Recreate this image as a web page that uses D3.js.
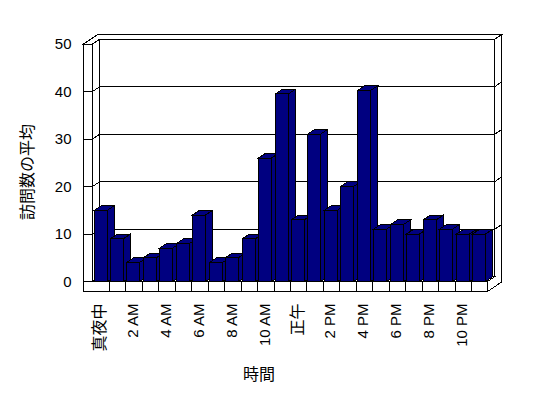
<!doctype html>
<html lang="ja">
<head>
    <meta charset="UTF-8">
    <title>訪問数の平均</title>
    <script src="https://d3js.org/d3.v7.min.js"></script>
    <style>
      body { margin: 0; background: #fff; }
      text { font-family: "Liberation Sans", Arial, "Noto Sans CJK JP", sans-serif; fill: #000; }
    </style>
</head>
<body>
    <svg width="548" height="398"></svg>

    <script>

      // Data
      const hours = [0, 1, 2, 3, 4, 5, 6, 7, 8, 9, 10, 11, 12, 13, 14, 15, 16, 17, 18, 19, 20, 21, 22, 23];
      const visits = [15, 9, 4, 5, 7, 8, 14, 4, 5, 9, 26, 39.5, 13, 31, 15, 20, 40.2, 11, 12, 10, 13, 11, 10, 10];
      const labelHours = [0, 2, 4, 6, 8, 10, 12, 14, 16, 18, 20, 22];
      const tickLabels = ["真夜中", "2 AM", "4 AM", "6 AM", "8 AM", "10 AM", "正午", "2 PM", "4 PM", "6 PM", "8 PM", "10 PM"];
      const yTicks = [0, 10, 20, 30, 40, 50];

      const svg = d3.select("svg");

      // 3D box geometry (front plane + depth offset)
      const dx = 7, dy = -4.7;
      const xOuter = 83.5, xIn = 92.5, xRight = 487.5;
      const floorBottom = 291.5;

      const x = d3.scaleBand().domain(hours).range([xIn, xRight]).padding(0);
      const y = d3.scaleLinear().domain([0, 50]).range([281.5, 44]);
      const yTop = y(50), yBase = y(0);

      const g = svg.append("g")
          .attr("stroke", "#000")
          .attr("stroke-width", 1)
          .attr("shape-rendering", "crispEdges");

      const poly = pts => "M" + pts.map(p => p.join(",")).join("L") + "Z";

      // back wall
      g.append("rect")
          .attr("x", xIn + dx).attr("y", yTop + dy)
          .attr("width", xRight - xIn).attr("height", yBase - yTop)
          .attr("fill", "#fff");

      g.selectAll(".grid").data(yTicks.slice(1)).join("line")
          .attr("x1", xIn + dx).attr("x2", xRight + dx)
          .attr("y1", d => y(d) + dy).attr("y2", d => y(d) + dy);

      // wall tops
      g.append("path")
          .attr("fill", "#fff")
          .attr("d", poly([[xOuter, yTop], [xIn, yTop], [xIn + dx, yTop + dy], [xRight + dx, yTop + dy],
                           [xRight + 2 * dx, yTop + 2 * dy], [xOuter + 2 * dx, yTop + 2 * dy]]));

      // left wall inner face
      g.append("path")
          .attr("fill", "#fff")
          .attr("d", poly([[xIn, yTop], [xIn + dx, yTop + dy], [xIn + dx, yBase + dy], [xIn, yBase]]));

      // left wall front face
      g.append("rect")
          .attr("x", xOuter).attr("y", yTop)
          .attr("width", xIn - xOuter).attr("height", floorBottom - yTop)
          .attr("fill", "#fff");

      // ticks on left wall
      g.selectAll(".tick").data(yTicks.slice(1)).join("path")
          .attr("fill", "none")
          .attr("d", d => `M${xOuter},${y(d)}H${xIn}L${xIn + dx},${y(d) + dy}`);

      // right side of back wall + floor
      g.append("path")
          .attr("fill", "#fff")
          .attr("d", poly([[xRight, yBase], [xRight + dx, yBase + dy], [xRight + dx, yTop + dy],
                           [xRight + 2 * dx, yTop + 2 * dy], [xRight + 2 * dx, floorBottom + 2 * dy], [xRight, floorBottom]]));

      g.selectAll(".rtick").data(yTicks.slice(1, 5)).join("line")
          .attr("x1", xRight + dx).attr("y1", d => y(d) + dy)
          .attr("x2", xRight + 2 * dx).attr("y2", d => y(d) + 2 * dy);

      // floor top
      g.append("path")
          .attr("fill", "#fff")
          .attr("d", poly([[xIn, yBase], [xIn + dx, yBase + dy], [xRight + dx, yBase + dy], [xRight, yBase]]));

      // floor front with category cells
      g.append("rect")
          .attr("x", xOuter).attr("y", yBase)
          .attr("width", xRight - xOuter).attr("height", floorBottom - yBase)
          .attr("fill", "#fff");

      g.selectAll(".cell").data(hours.slice(1)).join("line")
          .attr("x1", d => Math.round(x(d)) + 0.5).attr("x2", d => Math.round(x(d)) + 0.5)
          .attr("y1", yBase).attr("y2", floorBottom);

      // bars
      const bw = 13;
      const bars = g.selectAll(".bar").data(hours).join("g")
          .attr("fill", "#000080");

      bars.append("path") // side
          .attr("d", (d, i) => {
            const x1 = Math.round(x(d)) + 1.5 + bw, yt = y(visits[i]);
            return poly([[x1, yt], [x1 + dx, yt + dy], [x1 + dx, yBase + dy], [x1, yBase]]);
          });
      bars.append("path") // top
          .attr("d", (d, i) => {
            const x0 = Math.round(x(d)) + 1.5, yt = y(visits[i]);
            return poly([[x0, yt], [x0 + dx, yt + dy], [x0 + bw + dx, yt + dy], [x0 + bw, yt]]);
          });
      bars.append("rect") // front
          .attr("x", d => Math.round(x(d)) + 1.5)
          .attr("y", (d, i) => y(visits[i]))
          .attr("width", bw)
          .attr("height", (d, i) => yBase - y(visits[i]));

      // y axis labels
      const yAxis = d3.axisLeft(y).tickValues(yTicks).tickSize(0).tickPadding(12);
      svg.append("g")
          .attr("transform", `translate(${xOuter},0)`)
          .call(yAxis)
          .call(s => s.select(".domain").remove())
          .selectAll("text")
          .attr("font-size", 15)
          .attr("font-family", "'Liberation Sans', Arial, sans-serif");

      // x axis labels (rotated)
      svg.append("g").selectAll("text").data(labelHours).join("text")
          .attr("transform", d => `translate(${x(d) + x.bandwidth() / 2 - 1},303.5) rotate(-90)`)
          .attr("text-anchor", "end")
          .attr("dy", "0.35em")
          .attr("font-size", (d, i) => /[A-Z]/.test(tickLabels[i]) ? 15 : 16)
          .text((d, i) => tickLabels[i]);

      // axis titles
      svg.append("text")
          .attr("x", 259).attr("y", 374)
          .attr("dy", "0.35em")
          .attr("text-anchor", "middle")
          .attr("font-size", 16)
          .text("時間");

      svg.append("text")
          .attr("transform", "translate(27,172) rotate(-90)")
          .attr("dy", "0.35em")
          .attr("text-anchor", "middle")
          .attr("font-size", 16)
          .text("訪問数の平均");

    </script>

</body>
</html>
